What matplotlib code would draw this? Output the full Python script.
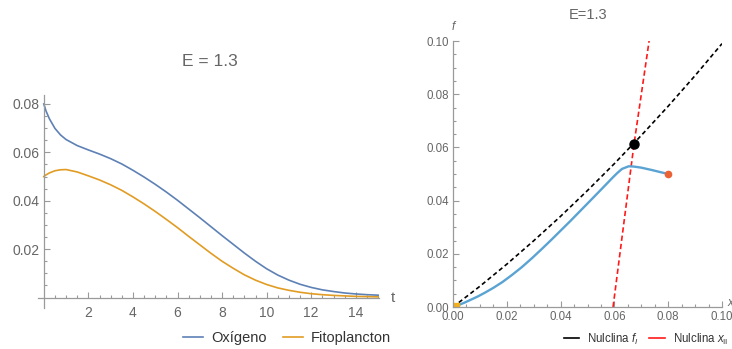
import numpy as np
import matplotlib
matplotlib.use("Agg")
import matplotlib.pyplot as plt
from matplotlib.ticker import MultipleLocator, FixedLocator, FormatStrFormatter

plt.rcParams['font.family'] = ['Liberation Sans', 'DejaVu Sans']
plt.rcParams['mathtext.fontset'] = 'custom'
plt.rcParams['mathtext.rm'] = 'Liberation Sans'
plt.rcParams['mathtext.it'] = 'Liberation Sans:italic'

# series (E = 1.3)
t = [0, 0.1, 0.25, 0.5, 0.75, 1, 1.5, 2, 2.5, 3, 3.5, 4, 4.5, 5, 5.5, 6, 6.5, 7, 7.5,
     8, 8.5, 9, 9.5, 10, 10.5, 11, 11.5, 12, 12.5, 13, 13.5, 14, 14.5, 15]
oxigeno = [0.0800, 0.0771, 0.0739, 0.0699, 0.0672, 0.0653, 0.0628, 0.0610, 0.0593, 0.0574,
           0.0552, 0.0526, 0.0498, 0.0468, 0.0436, 0.0402, 0.0366, 0.0330, 0.0293,
           0.0256, 0.0220, 0.0184, 0.0150, 0.0119, 0.0093, 0.0072, 0.0055, 0.0042,
           0.0032, 0.0025, 0.0019, 0.0015, 0.0012, 0.0010]
fito = [0.0500, 0.0507, 0.0515, 0.0524, 0.0528, 0.0529, 0.0519, 0.0503, 0.0486, 0.0466,
        0.0443, 0.0416, 0.0387, 0.0356, 0.0323, 0.0289, 0.0253, 0.0218, 0.0183,
        0.0150, 0.0121, 0.0094, 0.0072, 0.0054, 0.0040, 0.0030, 0.0022, 0.0016,
        0.0012, 0.0009, 0.0007, 0.0005, 0.0004, 0.0003]

# nulclinas
nf_x = [0, 0.01, 0.02, 0.03, 0.04, 0.05, 0.06, 0.07, 0.08, 0.09, 0.10]
nf_y = [0, 0.0078, 0.0161, 0.0249, 0.0341, 0.0438, 0.0539, 0.0645, 0.0755, 0.0870, 0.0990]
nx_x = [0.0595, 0.0673, 0.0729]
nx_y = [0, 0.0613, 0.1]
eq_x, eq_y = 0.0673, 0.0613

gray_txt = '#666666'
gray_ax = '#9a9a9a'

fig = plt.figure(figsize=(7.32, 3.49), dpi=100)

# ---- left: time series ----
ax1 = fig.add_axes([38/732, 41/349, 341/732, 213/349])
l1, = ax1.plot(t, oxigeno, color='#5E81B5', lw=1.2)
l2, = ax1.plot(t, fito, color='#E19C24', lw=1.2)
ax1.set_xlim(-0.26, 15.04)
ax1.set_ylim(-0.0043, 0.0837)
for s in ['top', 'right']:
    ax1.spines[s].set_visible(False)
ax1.spines['left'].set_position(('data', 0))
ax1.spines['bottom'].set_position(('data', 0))
for s in ['left', 'bottom']:
    ax1.spines[s].set_color(gray_ax)
    ax1.spines[s].set_linewidth(0.9)
ax1.xaxis.set_major_locator(FixedLocator([2, 4, 6, 8, 10, 12, 14]))
ax1.xaxis.set_minor_locator(FixedLocator(np.arange(0.5, 15.01, 0.5)))
ax1.yaxis.set_major_locator(FixedLocator([0.02, 0.04, 0.06, 0.08]))
ax1.yaxis.set_minor_locator(FixedLocator(np.arange(0.005, 0.0801, 0.005)))
ax1.yaxis.set_major_formatter(FormatStrFormatter('%.2f'))
ax1.tick_params(which='both', direction='in', colors=gray_ax, labelcolor=gray_txt,
                labelsize=10, width=0.8)
ax1.tick_params(which='major', length=4)
ax1.tick_params(which='minor', length=2.5)
ax1.tick_params(axis='x', pad=6)
ax1.tick_params(axis='y', pad=3)
ax1.text(15.55, 0, 't', color=gray_txt, fontsize=11, va='center', ha='left', clip_on=False)
fig.text(210/732, 1 - 62/349, 'E = 1.3', color=gray_txt, fontsize=12.5, ha='center', va='center')
fig.legend([l1, l2], ['Oxígeno', 'Fitoplancton'], loc='center',
           bbox_to_anchor=(287/732, 1 - 338/349), ncol=2, frameon=False, fontsize=10.5,
           handlelength=1.4, handletextpad=0.55, columnspacing=1.1, labelcolor='#333333')

# ---- right: phase plane ----
ax2 = fig.add_axes([453/732, 42/349, 269/732, 266/349])
h1, = ax2.plot(nf_x, nf_y, color='black', lw=1.2, dashes=(2.6, 1.8))
h2, = ax2.plot(nx_x, nx_y, color='#FF1A1A', lw=1.2, dashes=(3.2, 1.8))
ax2.plot(oxigeno, fito, color='#5AA3D2', lw=1.7)
ax2.plot(eq_x, eq_y, 'o', color='black', ms=6.5)
ax2.plot(oxigeno[0], fito[0], 'o', color='#EB6235', ms=4.5)
ax2.plot(oxigeno[-1], fito[-1], 's', color='#F0B020', ms=4.5)
ax2.set_xlim(0, 0.1)
ax2.set_ylim(0, 0.1)
for s in ['top', 'right']:
    ax2.spines[s].set_visible(False)
for s in ['left', 'bottom']:
    ax2.spines[s].set_color(gray_ax)
    ax2.spines[s].set_linewidth(0.9)
ax2.xaxis.set_major_locator(MultipleLocator(0.02))
ax2.yaxis.set_major_locator(MultipleLocator(0.02))
ax2.xaxis.set_minor_locator(MultipleLocator(0.005))
ax2.yaxis.set_minor_locator(MultipleLocator(0.005))
ax2.xaxis.set_major_formatter(FormatStrFormatter('%.2f'))
ax2.yaxis.set_major_formatter(FormatStrFormatter('%.2f'))
ax2.tick_params(which='both', direction='in', colors=gray_ax, labelcolor=gray_txt,
                labelsize=8.3, width=0.8)
ax2.tick_params(which='major', length=4)
ax2.tick_params(which='minor', length=2.5)
ax2.tick_params(axis='x', pad=3)
ax2.tick_params(axis='y', pad=3)
ax2.annotate('f', xy=(0, 1), xycoords='axes fraction', xytext=(0, 10),
             textcoords='offset points', ha='center', va='center', fontsize=8.5,
             style='italic', color=gray_txt, annotation_clip=False)
ax2.annotate('x', xy=(1, 0), xycoords='axes fraction', xytext=(6, 3),
             textcoords='offset points', ha='center', va='center', fontsize=8.5,
             style='italic', color=gray_txt, annotation_clip=False)
fig.text(588/732, 1 - 15/349, 'E=1.3', color=gray_txt, fontsize=10.5, ha='center', va='center')
fig.legend([h1, h2], [r'Nulclina $f_I$', r'Nulclina $x_{\mathrm{II}}$'], loc='center',
           bbox_to_anchor=(646/732, 1 - 339/349), ncol=2, frameon=False, fontsize=8.3,
           handlelength=1.35, handletextpad=0.7, columnspacing=0.9, labelcolor='#333333')
leg = fig.legends[-1]
for ln in leg.get_lines():
    ln.set_linestyle('-')

fig.savefig('out.png', dpi=100)
